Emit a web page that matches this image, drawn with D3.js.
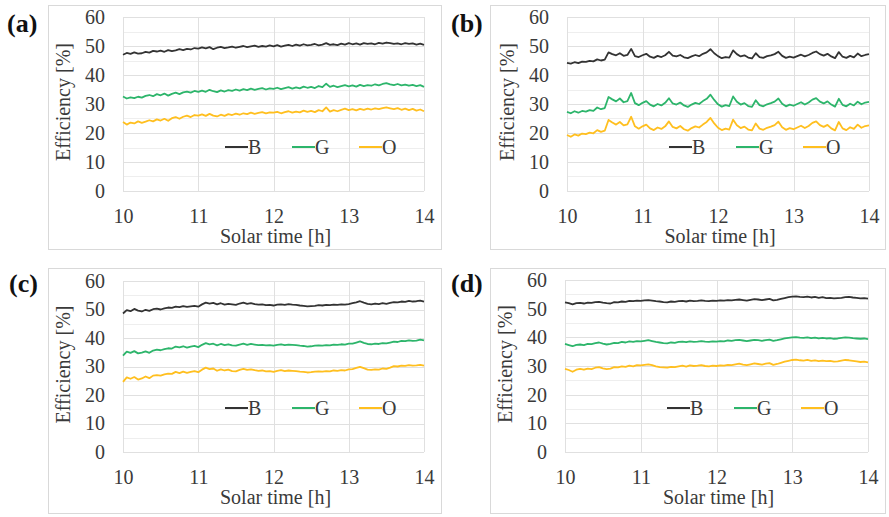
<!DOCTYPE html>
<html>
<head>
<meta charset="utf-8">
<script src="https://cdn.jsdelivr.net/npm/d3@7"></script>
<style>
html,body{margin:0;padding:0;background:#fff;}
svg{display:block;}
</style>
</head>
<body>
<script>
// ---------- data ----------
const times = [
10.00,10.05,10.10,10.15,10.20,10.25,10.30,10.35,10.40,10.45,
10.50,10.55,10.60,10.65,10.70,10.75,10.80,10.85,10.90,10.95,
11.00,11.05,11.10,11.15,11.20,11.25,11.30,11.35,11.40,11.45,
11.50,11.55,11.60,11.65,11.70,11.75,11.80,11.85,11.90,11.95,
12.00,12.05,12.10,12.15,12.20,12.25,12.30,12.35,12.40,12.45,
12.50,12.55,12.60,12.65,12.70,12.75,12.80,12.85,12.90,12.95,
13.00,13.05,13.10,13.15,13.20,13.25,13.30,13.35,13.40,13.45,
13.50,13.55,13.60,13.65,13.70,13.75,13.80,13.85,13.90,13.95,
14.00];
const xTicks = [10, 11, 12, 13, 14];
const yTicks = [0, 10, 20, 30, 40, 50, 60];
const seriesNames = ["B", "G", "O"];
const panelLabels = ["(a)", "(b)", "(c)", "(d)"];

// panel (a)
const aB = [47.0,47.6,47.3,47.8,47.4,47.5,48.0,47.7,48.3,48.1,48.4,48.0,48.6,48.2,48.5,48.9,48.6,49.0,48.8,49.3,49.1,
49.5,49.2,49.6,48.9,49.4,49.7,49.3,49.5,49.8,49.4,49.7,50.0,49.6,49.9,50.1,49.7,50.0,49.8,50.2,49.9,
50.3,49.8,50.1,50.4,50.0,50.5,50.1,50.6,50.2,50.4,50.7,50.2,50.5,51.0,50.4,50.6,50.3,50.8,50.5,51.0,
50.6,50.9,50.5,51.0,50.7,50.9,50.6,51.1,50.8,51.2,51.0,50.7,50.9,50.6,51.0,50.7,50.9,50.5,50.8,50.4,50.7];
const aG = [32.6,31.9,32.3,32.0,32.5,32.2,32.8,33.1,32.7,33.4,33.0,33.6,32.9,33.5,33.9,33.4,34.0,34.3,33.9,34.5,34.2,
34.6,34.2,34.9,34.4,34.1,34.7,34.3,34.8,34.5,35.0,34.6,35.1,34.8,35.3,34.9,35.2,35.5,35.0,35.4,35.2,
35.6,35.1,35.5,35.8,35.3,35.7,35.4,36.0,35.6,35.9,35.5,36.2,35.8,37.0,35.9,36.3,35.8,36.2,36.5,36.1,
36.4,36.0,36.6,36.2,36.5,36.3,36.8,36.4,36.9,37.2,36.8,36.5,36.9,36.4,36.7,36.3,36.6,36.2,36.5,35.9,36.3];
const aO = [23.8,22.9,23.6,23.3,24.0,23.5,23.9,24.4,24.0,24.7,24.3,24.9,24.2,25.1,25.5,24.9,25.6,26.0,25.5,26.2,26.0,
26.4,25.9,26.6,26.0,25.7,26.3,25.9,26.5,26.2,26.7,26.3,26.8,26.5,27.0,26.6,26.9,27.2,26.8,27.1,27.0,
27.3,26.8,27.2,27.5,27.0,27.4,27.1,27.7,27.3,27.6,27.2,27.9,27.5,28.8,27.4,27.9,27.5,28.0,28.4,27.9,
28.2,27.8,28.3,28.0,28.4,28.1,28.5,28.2,28.6,28.8,28.5,28.2,28.6,28.0,28.4,27.9,28.3,27.7,28.1,27.5,27.8];

// panel (b)
const bB = [44.2,43.9,44.4,44.1,44.6,44.5,44.9,44.7,45.4,45.0,45.3,
47.8,47.2,46.8,47.5,46.6,46.9,49.0,46.5,46.2,46.8,
47.3,46.3,45.9,46.6,46.2,46.8,48.0,46.7,46.4,46.9,46.1,45.8,46.4,46.9,46.5,47.3,47.8,48.9,47.5,46.5,
45.8,46.2,46.0,48.5,47.2,46.4,46.8,46.0,45.7,47.5,46.2,45.9,46.5,46.8,47.2,48.0,46.6,45.9,46.3,46.0,
46.5,47.0,46.4,46.9,47.6,48.1,47.2,46.7,47.3,46.4,45.8,47.9,46.3,45.9,46.6,46.1,47.4,46.5,46.9,47.2,46.8];
const bG = [27.3,26.8,27.5,27.0,27.6,27.4,27.9,27.6,28.8,28.2,28.6,
32.4,31.6,30.9,31.9,30.6,31.0,33.8,30.3,29.6,30.4,
31.0,29.8,29.2,30.0,29.5,30.4,32.0,30.2,29.8,30.5,29.5,29.0,29.8,30.4,30.0,31.0,31.8,33.2,31.4,29.9,
29.1,29.6,29.3,32.6,30.8,29.8,30.3,29.3,29.0,31.3,29.6,29.2,29.9,30.3,30.8,31.9,30.1,29.2,29.8,29.4,
30.0,30.6,29.8,30.5,31.5,32.0,30.8,30.2,30.9,29.8,29.1,31.8,29.7,29.2,30.1,29.5,30.8,29.9,30.5,30.7,30.2];
const bO = [19.3,18.7,19.5,19.1,19.8,19.6,20.1,19.9,21.0,20.4,20.8,
24.5,23.6,22.9,23.8,22.6,23.0,25.6,22.3,21.5,22.3,
22.9,21.6,21.0,21.9,21.4,22.3,24.0,22.1,21.6,22.4,21.3,20.8,21.7,22.3,21.9,22.9,23.8,25.2,23.3,21.8,
21.0,21.5,21.2,24.6,22.7,21.7,22.2,21.2,20.9,23.3,21.5,21.1,21.8,22.2,22.7,23.9,22.0,21.1,21.7,21.3,
21.9,22.5,21.7,22.4,23.5,24.0,22.7,22.1,22.8,21.6,20.9,23.8,21.6,21.0,22.0,21.4,22.9,21.8,22.4,22.6,22.1];

// panel (c)
const cB = [48.6,49.8,49.4,50.2,49.6,49.3,49.9,49.5,50.1,50.3,50.0,50.4,50.7,50.6,51.0,50.8,51.2,50.9,51.1,51.3,51.0,
51.8,52.4,52.1,52.3,51.8,52.2,51.7,52.0,51.8,51.6,52.1,52.4,52.0,52.2,51.9,51.7,51.8,51.5,51.6,51.4,
51.7,51.8,51.6,51.9,51.7,51.6,51.4,51.3,51.1,51.2,51.3,51.5,51.4,51.6,51.5,51.7,51.6,51.8,51.7,51.9,
52.2,52.5,52.9,52.4,52.0,51.8,52.1,51.9,52.2,52.0,52.3,52.6,52.5,52.8,52.7,53.0,52.8,52.9,53.1,52.8,53.0];
const cG = [33.8,35.2,34.8,35.4,34.6,34.9,35.3,34.8,35.6,35.9,35.7,36.1,36.4,36.3,37.0,36.7,37.1,36.6,37.0,37.2,36.8,
37.6,38.2,37.8,38.0,37.4,37.9,37.5,37.8,37.4,37.3,37.7,38.0,37.6,37.9,37.7,37.5,37.6,37.4,37.5,37.3,
37.6,37.8,37.5,37.7,37.6,37.5,37.3,37.2,37.0,37.1,37.3,37.4,37.3,37.5,37.4,37.7,37.6,37.8,37.7,38.0,
38.0,38.4,38.8,38.3,37.9,37.8,38.0,37.9,38.2,38.1,38.4,38.7,38.6,39.0,38.9,39.2,39.0,39.1,39.4,39.2,39.4];
const cO = [24.6,26.2,25.7,26.3,25.4,25.8,26.5,25.9,26.8,27.0,26.8,27.2,27.5,27.4,28.1,27.7,28.2,27.8,28.1,28.4,28.0,
28.9,29.6,29.1,29.3,28.5,29.0,28.6,28.9,28.4,28.3,28.8,29.2,28.8,29.0,28.7,28.5,28.6,28.3,28.4,28.1,
28.5,28.7,28.4,28.6,28.5,28.4,28.2,28.1,27.9,28.0,28.2,28.3,28.2,28.4,28.3,28.6,28.5,28.7,28.6,29.0,
29.1,29.5,29.9,29.4,28.9,28.8,29.0,28.9,29.3,29.2,29.6,30.1,30.0,30.3,30.2,30.5,30.3,30.4,30.6,30.3,30.4];

// panel (d)
const dB = [52.2,51.9,51.5,51.9,52.0,51.8,52.1,52.0,52.3,52.4,52.1,51.9,51.8,52.3,52.2,52.5,52.4,52.7,52.6,52.8,52.7,
52.9,53.0,52.8,52.6,52.5,52.3,52.2,52.5,52.4,52.6,52.7,52.5,52.8,52.6,52.7,52.9,52.7,52.6,52.8,52.7,
52.9,52.8,53.0,52.9,53.1,53.2,53.0,52.8,53.1,53.3,53.2,53.0,53.2,53.4,52.9,53.1,53.4,53.7,54.0,54.2,
54.3,54.1,54.0,54.2,53.9,54.1,53.8,54.0,53.7,53.8,53.6,53.7,53.8,54.0,54.1,53.9,53.8,53.6,53.7,53.5,53.4];
const dG = [37.7,37.3,36.9,37.4,37.5,37.3,37.7,37.6,38.0,38.2,37.8,37.5,37.7,38.1,38.0,38.4,38.2,38.6,38.4,38.7,38.6,
38.8,39.0,38.7,38.4,38.2,38.0,37.9,38.2,38.1,38.4,38.5,38.3,38.6,38.4,38.5,38.7,38.5,38.4,38.6,38.5,
38.7,38.6,38.9,38.8,39.0,39.1,38.9,38.7,38.9,39.1,39.0,38.8,39.0,39.2,38.8,39.0,39.3,39.6,39.8,40.0,
40.1,39.9,39.8,40.0,39.7,39.9,39.6,39.8,39.6,39.7,39.5,39.6,39.8,40.0,39.9,39.7,39.6,39.5,39.6,39.4,39.4];
const dO = [29.0,28.6,28.0,28.7,29.0,28.7,29.1,28.9,29.4,29.6,29.2,28.9,29.1,29.6,29.5,29.9,29.7,30.1,29.9,30.3,30.2,
30.4,30.6,30.3,29.9,29.6,29.5,29.4,29.7,29.6,29.9,30.1,29.8,30.2,30.0,30.1,30.3,30.0,29.9,30.1,30.0,
30.2,30.1,30.4,30.3,30.6,30.8,30.5,30.3,30.6,30.9,30.7,30.5,30.8,31.0,30.4,30.7,31.1,31.5,31.8,32.1,
32.2,32.0,31.9,32.1,31.8,32.0,31.7,31.9,31.7,31.8,31.5,31.6,31.9,32.1,32.0,31.8,31.6,31.4,31.5,31.3,31.3];

// ---------- font choice (serif, Times-like) ----------
function pickFont(cands) {
  const c = document.createElement("canvas").getContext("2d");
  const s = "Efficiency [%] Solar time 0123456789 mmmwwwlli";
  c.font = "40px monospace"; const wm = c.measureText(s).width;
  c.font = "40px sans-serif"; const ws = c.measureText(s).width;
  for (const f of cands) {
    c.font = `40px "${f}", monospace`; const a = c.measureText(s).width;
    c.font = `40px "${f}", sans-serif`; const b = c.measureText(s).width;
    if (a !== wm && b !== ws) return `"${f}"`;
    if (a !== wm) return `"${f}"`;
  }
  return "serif";
}
const FONT = pickFont(["Liberation Serif", "Times New Roman", "Tinos", "Times", "DejaVu Serif", "Noto Serif"]) + ", serif";

// ---------- layout / style ----------
const colors = ["#333333", "#2db56b", "#ffbf1f"];
const textColor = "#3a3a3a";
const panels = [
  {label: panelLabels[0], series: [aB, aG, aO], box: [48, 5, 393, 244], px: [123, 424], py: [17, 191], lab: [7, 32]},
  {label: panelLabels[1], series: [bB, bG, bO], box: [490, 5, 395, 244], px: [567, 869], py: [17, 191], lab: [451, 32]},
  {label: panelLabels[2], series: [cB, cG, cO], box: [48, 268, 393, 245], px: [123, 424], py: [281, 452], lab: [9, 292]},
  {label: panelLabels[3], series: [dB, dG, dO], box: [490, 268, 395, 245], px: [565, 868], py: [280, 452], lab: [451, 292]}
];

const svg = d3.select("body").append("svg").attr("width", 889).attr("height", 517)
  .style("font-family", FONT);
svg.append("rect").attr("width", 889).attr("height", 517).attr("fill", "#fff");

panels.forEach(p => {
  const g = svg.append("g");
  g.append("rect")
    .attr("x", p.box[0] + 0.5).attr("y", p.box[1] + 0.5)
    .attr("width", p.box[2]).attr("height", p.box[3])
    .attr("fill", "none").attr("stroke", "#d9d9d9").attr("stroke-width", 1);

  const x = d3.scaleLinear().domain([10, 14]).range(p.px);
  const y = d3.scaleLinear().domain([0, 60]).range([p.py[1], p.py[0]]);

  g.append("g").selectAll("line").data(d3.range(5, 60, 10)).join("line")
    .attr("x1", p.px[0]).attr("x2", p.px[1])
    .attr("y1", d => Math.round(y(d)) + 0.5).attr("y2", d => Math.round(y(d)) + 0.5)
    .attr("stroke", "#eeeeee").attr("stroke-width", 1);
  g.append("g").selectAll("line").data(yTicks).join("line")
    .attr("x1", p.px[0]).attr("x2", p.px[1])
    .attr("y1", d => Math.round(y(d)) + 0.5).attr("y2", d => Math.round(y(d)) + 0.5)
    .attr("stroke", "#e0e0e0").attr("stroke-width", 1);
  g.append("g").selectAll("line").data(xTicks).join("line")
    .attr("x1", d => Math.round(x(d)) + 0.5).attr("x2", d => Math.round(x(d)) + 0.5)
    .attr("y1", p.py[0]).attr("y2", p.py[1])
    .attr("stroke", "#e0e0e0").attr("stroke-width", 1);

  const ya = g.append("g").attr("transform", `translate(${p.px[0]},0)`)
    .call(d3.axisLeft(y).tickValues(yTicks).tickSize(0).tickPadding(18).tickFormat(d3.format("d")));
  ya.attr("font-family", null).attr("font-size", null);
  ya.select(".domain").remove();
  ya.selectAll("text").style("font-family", FONT).attr("font-size", 20).attr("fill", textColor);

  const xa = g.append("g").attr("transform", `translate(0,${p.py[1]})`)
    .call(d3.axisBottom(x).tickValues(xTicks).tickSize(0).tickPadding(18).tickFormat(d3.format("d")));
  xa.attr("font-family", null).attr("font-size", null);
  xa.select(".domain").remove();
  xa.selectAll("text").style("font-family", FONT).attr("font-size", 20).attr("fill", textColor);

  g.append("text")
    .attr("transform", `translate(${p.px[0] - 60},${(p.py[0] + p.py[1]) / 2 - 2}) rotate(-90)`)
    .attr("text-anchor", "middle").attr("dominant-baseline", "central")
    .style("font-family", FONT)
    .attr("font-size", 20).attr("fill", textColor).text("Efficiency [%]");
  g.append("text")
    .attr("x", (p.px[0] + p.px[1]) / 2 + 2).attr("y", p.py[1] + 52)
    .attr("text-anchor", "middle").style("font-family", FONT)
    .attr("font-size", 20).attr("fill", textColor).text("Solar time [h]");

  g.append("text").attr("x", p.lab[0]).attr("y", p.lab[1]).style("font-family", FONT)
    .attr("font-size", 26).attr("font-weight", "bold").attr("fill", "#111").text(p.label);

  const line = d3.line().x((d, i) => x(times[i])).y(d => y(d));
  p.series.forEach((s, k) => {
    g.append("path").datum(s).attr("d", line)
      .attr("fill", "none").attr("stroke", colors[k]).attr("stroke-width", 1.8)
      .attr("stroke-linejoin", "round");
  });

  const ly = p.py[1] - 44;
  seriesNames.forEach((n, k) => {
    const lx = p.px[0] + 102 + k * 67;
    g.append("line").attr("x1", lx).attr("x2", lx + 23).attr("y1", ly).attr("y2", ly)
      .attr("stroke", colors[k]).attr("stroke-width", 2);
    g.append("text").attr("x", lx + 23).attr("y", ly).attr("dy", "0.35em").style("font-family", FONT)
      .attr("font-size", 20).attr("fill", textColor).text(n);
  });
});
</script>
</body>
</html>
